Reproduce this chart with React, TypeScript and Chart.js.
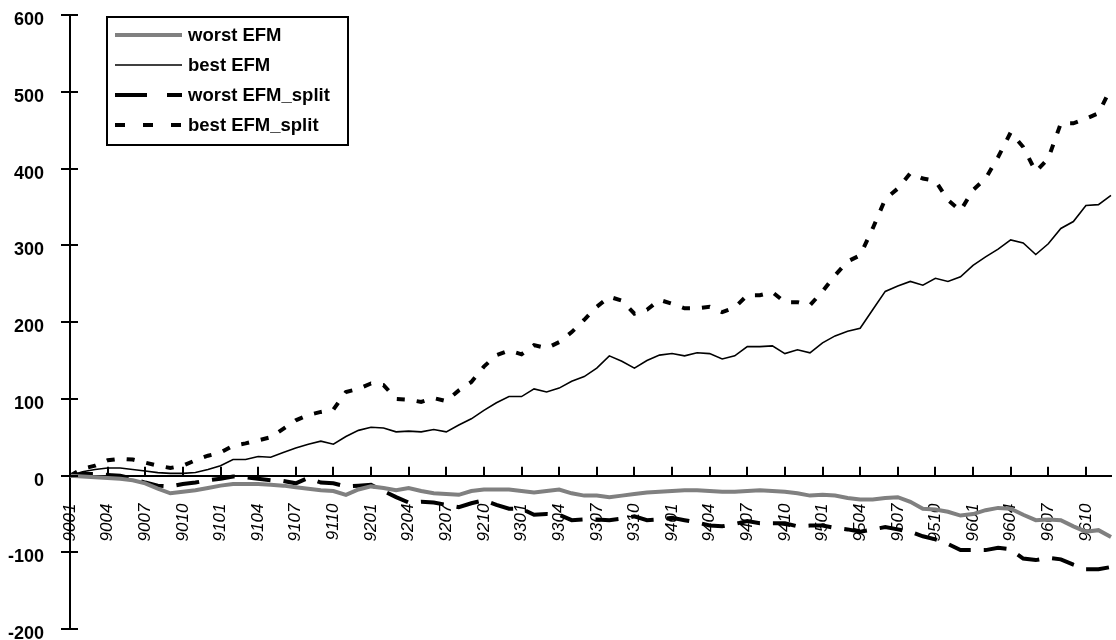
import React, { useEffect, useRef } from "react";
import { Chart, registerables } from "chart.js";

Chart.register(...registerables);

const MONTH_LABELS = [
  "9001", "9002", "9003", "9004", "9005", "9006", "9007", "9008", "9009", "9010", "9011", "9012",
  "9101", "9102", "9103", "9104", "9105", "9106", "9107", "9108", "9109", "9110", "9111", "9112",
  "9201", "9202", "9203", "9204", "9205", "9206", "9207", "9208", "9209", "9210", "9211", "9212",
  "9301", "9302", "9303", "9304", "9305", "9306", "9307", "9308", "9309", "9310", "9311", "9312",
  "9401", "9402", "9403", "9404", "9405", "9406", "9407", "9408", "9409", "9410", "9411", "9412",
  "9501", "9502", "9503", "9504", "9505", "9506", "9507", "9508", "9509", "9510", "9511", "9512",
  "9601", "9602", "9603", "9604", "9605", "9606", "9607", "9608", "9609", "9610", "9611", "9612",
];

const WORST_EFM = [
  0, -1, -2, -3, -4, -6, -10, -17, -23, -21, -19, -16,
  -13, -11, -11, -11, -12, -13, -15, -17, -19, -20, -25, -18,
  -14, -16, -19, -16, -20, -23, -24, -25, -20, -18, -18, -18,
  -20, -22, -20, -18, -23, -26, -26, -28, -26, -24, -22, -21,
  -20, -19, -19, -20, -21, -21, -20, -19, -20, -21, -23, -26,
  -25, -26, -29, -31, -31, -29, -28, -34, -43, -44, -47, -52,
  -50, -45, -42, -43, -51, -58, -57, -58, -66, -73, -71, -80,
];

const BEST_EFM = [
  0, 5, 8, 10, 10, 8, 6, 4, 3, 3, 4, 8,
  13, 21, 21, 25, 24, 30, 36, 41, 45, 41, 51, 59,
  63, 62, 57, 58, 57, 60, 57, 66, 74, 85, 95, 103,
  103, 113, 109, 114, 123, 129, 140, 156, 149, 140, 150, 157,
  159, 156, 160, 159, 152, 156, 168, 168, 169, 159, 164, 160,
  173, 182, 188, 192, 216, 240, 247, 253, 248, 257, 253, 259,
  274, 285, 295, 307, 303, 288, 302, 322, 331, 352, 353, 365,
];

const WORST_EFM_SPLIT = [
  0, 2, 2, 1, 0, -4, -9, -13, -14, -11, -9, -6,
  -4, -1, -2, -4, -6, -7, -10, -3, -9, -10, -14, -13,
  -12, -20, -28, -35, -34, -35, -38, -41, -36, -32, -38, -43,
  -43, -51, -50, -51, -58, -57, -57, -58, -56, -53, -58, -57,
  -55, -58, -61, -65, -66, -63, -59, -62, -62, -62, -66, -65,
  -65, -68, -70, -73, -70, -67, -70, -73, -79, -83, -89, -97,
  -97, -97, -94, -96, -108, -110, -107, -109, -116, -122, -122, -119,
];

const BEST_EFM_SPLIT = [
  0, 9, 13, 20, 22, 21, 17, 13, 10, 13, 20, 26,
  30, 39, 42, 46, 50, 61, 72, 79, 83, 86, 109, 113,
  120, 118, 100, 99, 96, 101, 97, 111, 122, 142, 157, 163,
  158, 170, 166, 174, 187, 203, 220, 233, 228, 211, 216, 229,
  224, 218, 218, 220, 213, 219, 235, 235, 239, 226, 226, 222,
  240, 261, 279, 287, 322, 360, 374, 394, 387, 384, 359, 345,
  372, 387, 415, 447, 428, 396, 413, 459, 459, 465, 472, 505,
];

const SERIES_NAMES = ["worst EFM", "best EFM", "worst EFM_split", "best EFM_split"];
const Y_MIN = -200;
const Y_MAX = 600;
const Y_STEP = 100;
const LABEL_EVERY = 3;

const FONT = '"Liberation Sans", Arial, Helvetica, sans-serif';

const LEGEND_SAMPLE_DASH: number[][] = [[], [], [32, 20], [10, 18]];

const excelAxesPlugin = {
  id: "excelAxes",
  afterDraw(chart: any) {
    const { ctx } = chart;
    const xs = chart.scales.x;
    const ys = chart.scales.y;
    const axisX = xs.left;
    const zeroY = ys.getPixelForValue(0);
    ctx.save();
    ctx.strokeStyle = "#000";
    ctx.lineWidth = 2;
    ctx.setLineDash([]);
    ys.ticks.forEach((t: any) => {
      const py = Math.round(ys.getPixelForValue(t.value));
      ctx.beginPath();
      ctx.moveTo(axisX - 9, py);
      ctx.lineTo(axisX + 8, py);
      ctx.stroke();
    });
    for (let i = 0; i < MONTH_LABELS.length; i += LABEL_EVERY) {
      const px = Math.round(xs.getPixelForValue(i));
      ctx.beginPath();
      ctx.moveTo(px, zeroY);
      ctx.lineTo(px, zeroY - 9);
      ctx.stroke();
    }
    ctx.restore();
  },
};

const boxLegendPlugin = {
  id: "boxLegend",
  afterDraw(chart: any) {
    const { ctx } = chart;
    const left = 107;
    const top = 17;
    const w = 241;
    const h = 128;
    ctx.save();
    ctx.fillStyle = "#fff";
    ctx.fillRect(left, top, w, h);
    ctx.strokeStyle = "#000";
    ctx.lineWidth = 2;
    ctx.setLineDash([]);
    ctx.strokeRect(left, top, w, h);
    const rows = [35, 65, 95, 125];
    chart.data.datasets.forEach((ds: any, i: number) => {
      const y = rows[i];
      ctx.save();
      ctx.strokeStyle = ds.borderColor;
      ctx.lineWidth = ds.borderWidth;
      ctx.lineCap = "butt";
      ctx.setLineDash(LEGEND_SAMPLE_DASH[i]);
      ctx.beginPath();
      ctx.moveTo(115, y);
      ctx.lineTo(182, y);
      ctx.stroke();
      ctx.restore();
      ctx.fillStyle = "#000";
      ctx.font = `bold 18.5px ${FONT}`;
      ctx.textBaseline = "middle";
      ctx.textAlign = "left";
      ctx.fillText(ds.label, 188, y + 1);
    });
    ctx.restore();
  },
};

export default function App() {
  const canvasRef = useRef<HTMLCanvasElement | null>(null);

  useEffect(() => {
    const canvas = canvasRef.current;
    if (!canvas) return;
    const chart = new Chart(canvas, {
      type: "line",
      data: {
        labels: MONTH_LABELS,
        datasets: [
          {
            label: SERIES_NAMES[0],
            data: WORST_EFM,
            borderColor: "#808080",
            borderWidth: 4,
            pointRadius: 0,
            tension: 0,
            borderCapStyle: "butt",
          },
          {
            label: SERIES_NAMES[1],
            data: BEST_EFM,
            borderColor: "#000000",
            borderWidth: 1.6,
            pointRadius: 0,
            tension: 0,
          },
          {
            label: SERIES_NAMES[2],
            data: WORST_EFM_SPLIT,
            borderColor: "#000000",
            borderWidth: 4,
            borderDash: [23, 13],
            pointRadius: 0,
            tension: 0,
            borderCapStyle: "butt",
          },
          {
            label: SERIES_NAMES[3],
            data: BEST_EFM_SPLIT,
            borderColor: "#000000",
            borderWidth: 4,
            borderDash: [8, 12],
            pointRadius: 0,
            tension: 0,
            borderCapStyle: "butt",
          },
        ],
      },
      options: {
        responsive: false,
        animation: false,
        layout: { padding: { top: 15, bottom: 8, left: 0, right: 5 } },
        plugins: {
          legend: { display: false },
          tooltip: { enabled: false },
        },
        scales: {
          x: {
            type: "category",
            position: { y: 0 } as any,
            offset: false,
            border: { display: true, color: "#000", width: 2 },
            grid: { display: false, drawTicks: true, tickLength: 28 },
            ticks: {
              autoSkip: false,
              minRotation: 90,
              maxRotation: 90,
              padding: 0,
              color: "#000",
              font: { family: FONT, size: 17, style: "italic" },
              callback: function (this: any, value: any, index: number) {
                return index % LABEL_EVERY === 0 ? MONTH_LABELS[index] : null;
              },
            },
          },
          y: {
            min: Y_MIN,
            max: Y_MAX,
            border: { display: true, color: "#000", width: 2 },
            grid: { display: false, drawTicks: true, tickLength: 26 },
            afterFit: (scale: any) => {
              scale.width = 70;
            },
            ticks: {
              stepSize: Y_STEP,
              padding: 0,
              labelOffset: 5,
              color: "#000",
              font: { family: FONT, size: 18, weight: "bold" },
            },
          },
        },
      },
      plugins: [excelAxesPlugin, boxLegendPlugin],
    });
    return () => chart.destroy();
  }, []);

  return (
    <div style={{ position: "fixed", left: 0, top: 0, width: 1116, height: 640, background: "#fff" }}>
      <canvas ref={canvasRef} width={1116} height={640} style={{ display: "block" }} />
    </div>
  );
}
